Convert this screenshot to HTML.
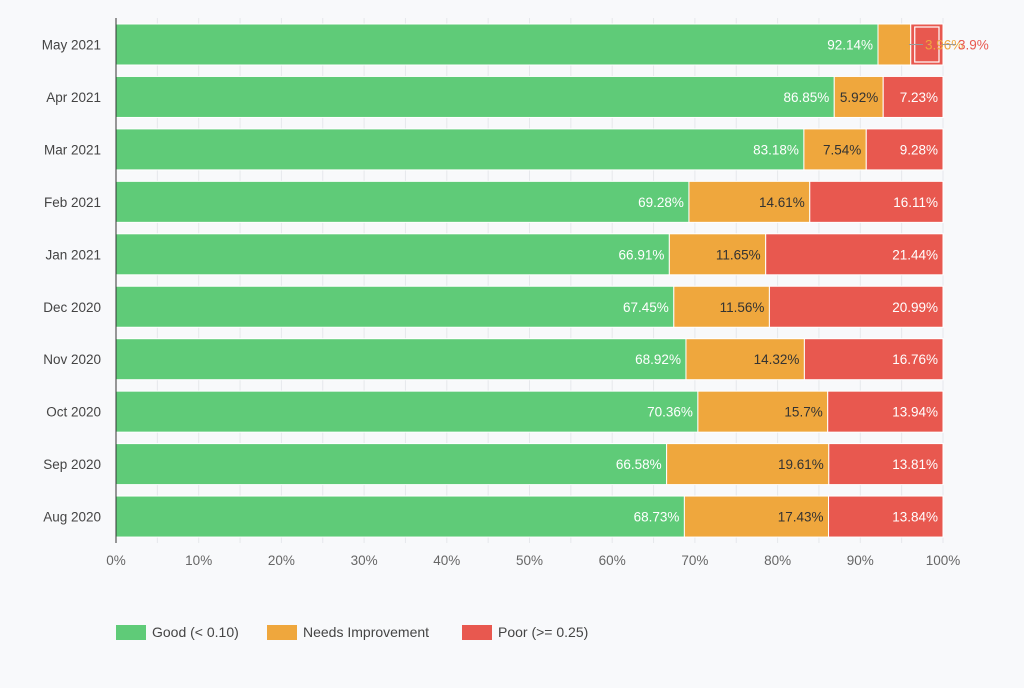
<!DOCTYPE html>
<html><head><meta charset="utf-8"><style>
body{margin:0;background:#f8f9fb;font-family:"Liberation Sans",sans-serif;}
svg text{font-family:"Liberation Sans",sans-serif;font-size:13.5px;}
</style></head><body>
<svg id="c" width="1024" height="683"></svg>
<script>
const categories=["May 2021","Apr 2021","Mar 2021","Feb 2021","Jan 2021","Dec 2020","Nov 2020","Oct 2020","Sep 2020","Aug 2020"];
const good=[92.14,86.85,83.18,69.28,66.91,67.45,68.92,70.36,66.58,68.73];
const needs=[3.96,5.92,7.54,14.61,11.65,11.56,14.32,15.7,19.61,17.43];
const poor=[3.9,7.23,9.28,16.11,21.44,20.99,16.76,13.94,13.81,13.84];
const ticks=[0,10,20,30,40,50,60,70,80,90,100];
const NS="http://www.w3.org/2000/svg";
const svg=document.getElementById('c');
const x0=116,x1=943,top0=24,step=52.45,bh=41;
const X=v=>x0+(x1-x0)*v/100;
const Y=i=>top0+i*step;
function mk(t,a,p){const e=document.createElementNS(NS,t);for(const k in a)e.setAttribute(k,a[k]);(p||svg).appendChild(e);return e;}
for(let v=5;v<=100;v+=5){const g=mk('line',{x1:X(v),x2:X(v),y1:18,y2:543,stroke:'#e6e8ec','stroke-width':1});

}
ticks.forEach(t=>{const e=mk('text',{x:X(t),y:565,'text-anchor':'middle',fill:'#666'});e.textContent=t+'%';

});
const cols=['#5fcb78','#efa73d','#e8584f'];
const series=[good,needs,poor];
const sname=['good','needs-improvement','poor'];
const labels=[];
categories.forEach((c,i)=>{
 const y=Y(i);
 const l=mk('text',{x:101,y:y+bh/2+5,'text-anchor':'end',fill:'#444'});l.textContent=c;
 
 
 let acc=0;
 series.forEach((s,k)=>{
  const v=s[i];const xa=X(acc),xb=X(acc+v);
  const r=mk('rect',{x:xa,y:y,width:xb-xa,height:bh,fill:cols[k],stroke:'#fff','stroke-width':1});
  
  
  labels.push([v,k,xa,xb,y]);
  acc+=v;
 });
});
mk('rect',{x:X(96.1)+4,y:Y(0)+3,width:X(100)-X(96.1)-8,height:bh-6,fill:'none',stroke:'#fff','stroke-width':1.2});
labels.forEach(([v,k,xa,xb,y])=>{
  const w=xb-xa;
  if(w>40){
   const t=mk('text',{x:xb-5,y:y+bh/2+5,'text-anchor':'end',fill:k===1?'#333':'#fff'});t.textContent=v+'%';
   
   
  }else{
   const lx=k===1?925:958;
   const ln=mk('line',{x1:lx-16,x2:lx-2,y1:y+bh/2,y2:y+bh/2,stroke:'#999','stroke-width':1});
   
   
   const t=mk('text',{x:lx,y:y+bh/2+5,'text-anchor':'start',fill:k===1?'#efa73d':'#e8584f','font-size':'13px'});t.textContent=v+'%';
   
   
  }
});
const ax=mk('line',{x1:x0,x2:x0,y1:18,y2:543,stroke:'#333','stroke-width':1});


const leg=[["Good (< 0.10)",116],["Needs Improvement",267],["Poor (>= 0.25)",462]];
leg.forEach((L,k)=>{
 const g=mk('g',{});
 
 
 mk('rect',{x:L[1],y:625,width:30,height:15,fill:cols[k]},g);
 const t=mk('text',{x:L[1]+36,y:637,fill:'#444',style:'font-size:14px'},g);t.textContent=L[0];
});
</script>
</body></html>
